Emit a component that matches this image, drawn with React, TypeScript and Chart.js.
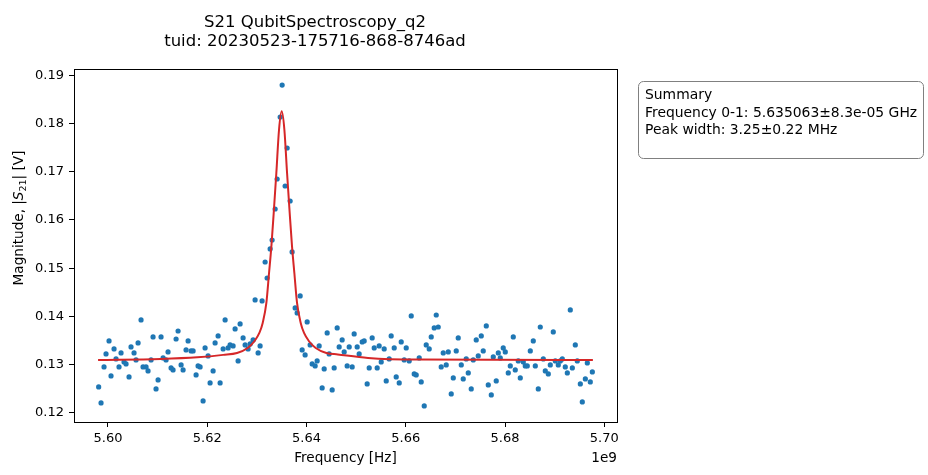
import React, { useEffect, useRef } from "react";
import { Chart, registerables } from "chart.js";

Chart.register(...registerables);

// ---- data ----
const freqGHz = [
  5.59812, 5.5986, 5.5992, 5.5996, 5.60021, 5.60061, 5.60122, 5.60162, 5.60222, 5.60263,
  5.60323, 5.60364, 5.60424, 5.60464, 5.60525, 5.60565, 5.60606, 5.60666, 5.60706, 5.60767,
  5.60807, 5.60868, 5.60908, 5.60968, 5.61009, 5.61069, 5.6111, 5.6117, 5.6121, 5.61271,
  5.61311, 5.61372, 5.61412, 5.61473, 5.61513, 5.61573, 5.61614, 5.61674, 5.61715, 5.61775,
  5.61815, 5.61856, 5.61916, 5.61956, 5.62017, 5.62057, 5.62118, 5.62158, 5.62219, 5.62259,
  5.6232,
  5.6236, 5.6242, 5.6246, 5.62521, 5.62561, 5.62622, 5.62662, 5.62722, 5.62763, 5.62823,
  5.62864, 5.62924, 5.62964, 5.63025, 5.63065, 5.63105, 5.63166, 5.63206, 5.63267, 5.63307,
  5.63368, 5.63408, 5.63469, 5.63509, 5.63569, 5.6361, 5.6367, 5.6371, 5.63771, 5.63811,
  5.63872, 5.63912, 5.63972, 5.64013, 5.64073, 5.64114, 5.64174, 5.64214, 5.64255,
  5.64315, 5.64356, 5.64416, 5.64456, 5.64517, 5.64557, 5.64618, 5.64658, 5.64718, 5.64759,
  5.64819, 5.6486, 5.6492, 5.6496, 5.65021, 5.65061, 5.65122, 5.65162, 5.65222, 5.65263,
  5.65323, 5.65364, 5.65424, 5.65464, 5.65505, 5.65565, 5.65606, 5.65666, 5.65706, 5.65767,
  5.65807, 5.65868, 5.65908, 5.65968, 5.66009, 5.66069, 5.6611, 5.6617, 5.6621, 5.66271,
  5.66311, 5.66372, 5.66412, 5.66472, 5.66513, 5.66573, 5.66614, 5.66654, 5.66714, 5.66755,
  5.66815, 5.66856, 5.66916, 5.66957, 5.67017,
  5.67057, 5.67118, 5.67158, 5.67218, 5.67259, 5.67319, 5.6736, 5.6742, 5.6746, 5.67521,
  5.67561, 5.67622, 5.67662, 5.67723, 5.67763, 5.67823, 5.67864, 5.67904, 5.67964, 5.68005,
  5.68065, 5.68106, 5.68166, 5.68206, 5.68267, 5.68307, 5.68368, 5.68408, 5.68448, 5.68509,
  5.68569, 5.6861, 5.6867, 5.6871, 5.68771, 5.68811, 5.68872, 5.68912, 5.68972, 5.69013,
  5.69073, 5.69114, 5.69154, 5.69214, 5.69255, 5.69315, 5.69356, 5.69416, 5.69456, 5.69517,
  5.69557, 5.69618, 5.69658, 5.69718, 5.69759,
];

const magV = [
  0.12535, 0.12203, 0.1295, 0.13219, 0.13489, 0.12763, 0.13323, 0.13116, 0.1295, 0.1324,
  0.13053, 0.13012, 0.12742, 0.13365, 0.1324, 0.13095, 0.13448, 0.13925, 0.1295, 0.1295,
  0.12867, 0.13095, 0.13572, 0.12493, 0.1268, 0.13572, 0.13136, 0.13095, 0.13261, 0.12929,
  0.12887, 0.1353, 0.13696, 0.12991, 0.12887, 0.13302, 0.13489, 0.13282, 0.13282, 0.12784,
  0.1297, 0.1295, 0.12244, 0.13344, 0.13178, 0.12618, 0.12867, 0.13448, 0.13593, 0.12618,
  0.13323,
  0.13925, 0.13344, 0.13406, 0.13385, 0.13738, 0.13074, 0.13842, 0.13551, 0.13406, 0.13323,
  0.13427, 0.1351, 0.1434, 0.1324, 0.13385, 0.14319, 0.15128, 0.14796, 0.15398, 0.15584,
  0.16228, 0.1685, 0.18136, 0.188, 0.16705, 0.17493, 0.16394, 0.15336, 0.14174, 0.1407,
  0.14423, 0.13302, 0.13199, 0.13883, 0.13406, 0.13012, 0.1297, 0.13074, 0.13385,
  0.12514, 0.12908, 0.13655, 0.13219, 0.12472, 0.12929, 0.13759, 0.13365, 0.1351, 0.13261,
  0.1297, 0.13365, 0.1295, 0.13634, 0.13365, 0.13219, 0.13468, 0.13489, 0.12597, 0.12929,
  0.13551, 0.13344, 0.12929, 0.13385, 0.13053, 0.13323, 0.12659, 0.13116, 0.13593, 0.13344,
  0.12742, 0.12618, 0.13468, 0.13095, 0.13344, 0.13074, 0.14008, 0.12804, 0.12784, 0.13136,
  0.12638, 0.1214, 0.13406, 0.13323, 0.13572, 0.13759, 0.14028, 0.13779, 0.1295, 0.1324,
  0.12991, 0.13261, 0.12389, 0.12721, 0.13282,
  0.13551, 0.12991, 0.12701, 0.13116, 0.12825, 0.12493, 0.13095, 0.1351, 0.13178, 0.13593,
  0.13282, 0.138, 0.12576, 0.12369, 0.13157, 0.12659, 0.1324, 0.13136, 0.13344, 0.13261,
  0.12825, 0.1297, 0.13572, 0.12887, 0.13074, 0.12721, 0.13053, 0.1297, 0.1297, 0.13282,
  0.13489, 0.1297, 0.12493, 0.13779, 0.13116, 0.12867, 0.12804, 0.12991, 0.13676, 0.13074,
  0.12991, 0.13074, 0.13116, 0.1295, 0.12825, 0.14132, 0.12929, 0.13406, 0.13074, 0.12597,
  0.12223, 0.12701, 0.13033, 0.12638, 0.12846,
];

const fitFreqGHz = [
  5.598, 5.6106, 5.618, 5.6232, 5.626, 5.62815, 5.6295, 5.6305, 5.63117, 5.63191,
  5.63245, 5.63292, 5.63339, 5.63392, 5.63446, 5.635, 5.63554, 5.63608, 5.63661, 5.63708,
  5.63755, 5.63809, 5.63883, 5.6395, 5.6405, 5.64185, 5.644, 5.6463, 5.6524, 5.6624, 5.6977,
];
const fitMagV = [
  0.13095, 0.13116, 0.1315, 0.132, 0.1324, 0.13344, 0.13483, 0.13655, 0.13863, 0.14277,
  0.149, 0.15453, 0.16145, 0.16975, 0.17873, 0.18254, 0.17873, 0.16975, 0.16145, 0.15453,
  0.149, 0.14277, 0.13863, 0.13655, 0.13483, 0.13344, 0.1324, 0.1321, 0.13136, 0.13102, 0.13095,
];

const xTicksHz = [5.6e9, 5.62e9, 5.64e9, 5.66e9, 5.68e9, 5.7e9];
const yTicks = [0.12, 0.13, 0.14, 0.15, 0.16, 0.17, 0.18, 0.19];
const xLimitsHz = [5.59315e9, 5.70256e9];
const yLimits = [0.11807, 0.19133];

const titleLines = ["S21 QubitSpectroscopy_q2", "tuid: 20230523-175716-868-8746ad"];
const xLabel = "Frequency [Hz]";
const xOffsetText = "1e9";
const yLabelParts = [
  { text: "Magnitude, |", kind: "normal" },
  { text: "S", kind: "italic" },
  { text: "21", kind: "sub" },
  { text: "| [V]", kind: "normal" },
];
const summaryLines = [
  "Summary",
  "Frequency 0-1: 5.635063\u00b18.3e-05 GHz",
  "Peak width: 3.25\u00b10.22 MHz",
];

const FAMILY = "'DejaVu Sans', 'Liberation Sans', sans-serif";
const BLUE = "#1f77b4";
const RED = "#d62728";

const decorPlugin = {
  id: "decor",
  afterDraw(chart: any) {
    const ctx: CanvasRenderingContext2D = chart.ctx;
    const a = chart.chartArea;
    ctx.save();
    // axes frame
    ctx.strokeStyle = "#000";
    ctx.lineWidth = 1;
    ctx.strokeRect(Math.round(a.left) + 0.5, Math.round(a.top) + 0.5, Math.round(a.right - a.left), Math.round(a.bottom - a.top));

    ctx.fillStyle = "#000";
    // title
    ctx.textAlign = "center";
    ctx.textBaseline = "alphabetic";
    ctx.font = `16.5px ${FAMILY}`;
    ctx.fillText(titleLines[0], 315, 27);
    ctx.fillText(titleLines[1], 315, 46);

    // x label
    ctx.font = `13.6px ${FAMILY}`;
    ctx.fillText(xLabel, (a.left + a.right) / 2, 462);
    ctx.textAlign = "right";
    ctx.fillText(xOffsetText, a.right, 462);

    // y label (rotated, with italic S and subscript)
    const size = 13.6;
    const fontFor = (k: string) =>
      k === "italic" ? `italic ${size}px ${FAMILY}` : k === "sub" ? `${(size * 0.7).toFixed(2)}px ${FAMILY}` : `${size}px ${FAMILY}`;
    let total = 0;
    for (const p of yLabelParts) {
      ctx.font = fontFor(p.kind);
      total += ctx.measureText(p.text).width;
    }
    ctx.translate(23, 218);
    ctx.rotate(-Math.PI / 2);
    ctx.textAlign = "left";
    let cx = -total / 2;
    for (const p of yLabelParts) {
      ctx.font = fontFor(p.kind);
      ctx.fillText(p.text, cx, p.kind === "sub" ? 2.8 : 0);
      cx += ctx.measureText(p.text).width;
    }
    ctx.setTransform(1, 0, 0, 1, 0, 0);

    // summary box
    ctx.beginPath();
    (ctx as any).roundRect(638.5, 81.5, 285, 77, 5);
    ctx.fillStyle = "#fff";
    ctx.fill();
    ctx.strokeStyle = "#808080";
    ctx.lineWidth = 1;
    ctx.stroke();
    ctx.fillStyle = "#000";
    ctx.font = `13.9px ${FAMILY}`;
    ctx.textAlign = "left";
    summaryLines.forEach((s, i) => ctx.fillText(s, 645, 99 + i * 17.5));
    ctx.restore();
  },
};

export default function App() {
  const ref = useRef<HTMLCanvasElement | null>(null);
  useEffect(() => {
    if (!ref.current) return;
    const scatterPts = freqGHz.map((f, i) => ({ x: f * 1e9, y: magV[i] }));
    const fitPts = fitFreqGHz.map((f, i) => ({ x: f * 1e9, y: fitMagV[i] }));
    const tickFont = { family: FAMILY, size: 13 };
    const chart = new Chart(ref.current, {
      type: "scatter",
      data: {
        datasets: [
          {
            label: "fit",
            data: fitPts,
            showLine: true,
            borderColor: RED,
            backgroundColor: RED,
            borderWidth: 2,
            pointRadius: 0,
            cubicInterpolationMode: "monotone",
            order: 0,
          } as any,
          {
            label: "data",
            data: scatterPts,
            showLine: false,
            backgroundColor: BLUE,
            borderColor: BLUE,
            borderWidth: 0,
            pointRadius: 2.6,
            order: 1,
          } as any,
        ],
      },
      options: {
        responsive: false,
        animation: false,
        devicePixelRatio: 1,
        layout: { padding: { left: 0, top: 69, right: 311, bottom: 0 } },
        plugins: { legend: { display: false }, title: { display: false }, tooltip: { enabled: false } },
        scales: {
          x: {
            type: "linear",
            min: xLimitsHz[0],
            max: xLimitsHz[1],
            afterBuildTicks: (s: any) => {
              s.ticks = xTicksHz.map((v) => ({ value: v }));
            },
            afterFit: (s: any) => {
              s.height = 53;
            },
            grid: { display: true, drawOnChartArea: false, drawTicks: true, tickLength: 5, color: "#000", lineWidth: 1 },
            border: { display: false },
            ticks: {
              color: "#000",
              font: tickFont,
              padding: 4,
              maxRotation: 0,
              autoSkip: false,
              callback: (v: any) => (Number(v) / 1e9).toFixed(2),
            },
          },
          y: {
            type: "linear",
            min: yLimits[0],
            max: yLimits[1],
            afterBuildTicks: (s: any) => {
              s.ticks = yTicks.map((v) => ({ value: v }));
            },
            afterFit: (s: any) => {
              s.width = 74;
            },
            grid: { display: true, drawOnChartArea: false, drawTicks: true, tickLength: 5, color: "#000", lineWidth: 1 },
            border: { display: false },
            ticks: {
              color: "#000",
              font: tickFont,
              padding: 5,
              autoSkip: false,
              callback: (v: any) => Number(v).toFixed(2),
            },
          },
        },
      } as any,
      plugins: [decorPlugin],
    });
    return () => chart.destroy();
  }, []);
  return (
    <div style={{ position: "absolute", left: 0, top: 0, width: 928, height: 475, background: "#fff" }}>
      <canvas ref={ref} width={928} height={475} style={{ display: "block", width: 928, height: 475 }} />
    </div>
  );
}
